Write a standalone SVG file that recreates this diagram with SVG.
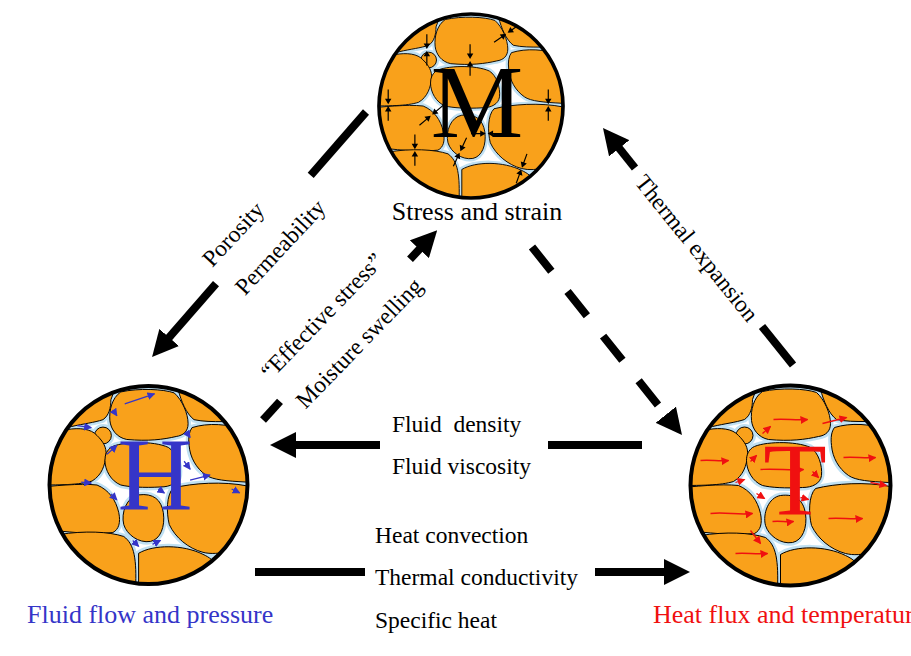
<svg xmlns="http://www.w3.org/2000/svg" xmlns:xlink="http://www.w3.org/1999/xlink" width="911" height="656" viewBox="0 0 911 656">
<style>
.conn path{fill:none;stroke:#000;stroke-width:8}
.lbl{font-family:"Liberation Serif","Times New Roman",serif;font-size:23.5px;fill:#000}
.cap{font-family:"Liberation Serif","Times New Roman",serif;font-size:26px}
.big{font-family:"Liberation Serif","Times New Roman",serif;font-size:104px;text-anchor:middle}
.ring{fill:none;stroke:#000;stroke-width:4}
.fa{fill:none;stroke-width:1.3}
</style>
<defs>
<clipPath id="cc"><circle r="100"/></clipPath>
<marker id="ah" markerUnits="userSpaceOnUse" markerWidth="26" markerHeight="26" viewBox="0 0 26 26" refX="1" refY="13" orient="auto"><path d="M0,0 L26,13 L0,26 Z" fill="#000"/></marker>
<marker id="sab" markerUnits="userSpaceOnUse" markerWidth="8" markerHeight="8" viewBox="0 0 8 8" refX="7" refY="4" orient="auto"><path d="M0,0 L8,4 L0,8 Z" fill="#3535c8"/></marker>
<marker id="sar" markerUnits="userSpaceOnUse" markerWidth="8" markerHeight="8" viewBox="0 0 8 8" refX="7" refY="4" orient="auto"><path d="M0,0 L8,4 L0,8 Z" fill="#f01010"/></marker>
<g id="gp">
<path d="M-28,-94 C-10,-98 15,-97 26,-93 C34,-86 40,-72 40,-62 C40,-54 35,-50 28,-49 C15,-46 0,-44 -22,-46 C-32,-48 -38,-56 -39,-65 C-40,-75 -37,-88 -28,-94 Z"/>
<path d="M-34,-97 L-120,-120 L-120,-58 L-78,-59 C-65,-62 -55,-63 -46,-66 C-40,-70 -38,-78 -38,-86 Z"/>
<path d="M30,-96 C33,-85 38,-72 46,-66 C55,-64 65,-64 75,-64 L120,-60 L120,-120 L30,-120 Z"/>
<circle cx="-46" cy="-50" r="8.5"/>
<path d="M44,-58 C60,-63 80,-62 100,-55 L120,-55 L120,-3 L98,-3 C80,-4 65,-5 58,-10 C48,-17 42,-28 41,-40 C40,-48 41,-54 44,-58 Z"/>
<path d="M-82,-56 C-70,-58 -58,-57 -52,-50 C-46,-44 -42,-38 -43,-30 C-44,-20 -47,-10 -57,-4 C-70,0 -88,0 -120,0 L-120,-56 Z"/>
<path d="M-38,-38 C-28,-44 5,-45 20,-38 C28,-33 32,-20 31,-10 C30,-2 22,2 12,2 C-5,3 -20,2 -28,0 C-38,-4 -44,-15 -44,-25 C-44,-31 -42,-35 -38,-38 Z"/>
<path d="M-120,3 C-95,1 -70,-2 -52,0 C-40,5 -33,15 -30,28 C-28,38 -30,45 -36,48 C-55,50 -75,48 -95,46 L-120,46 Z"/>
<path d="M-10,10 C5,8 13,15 15,28 C17,42 12,55 2,57 C-10,59 -22,50 -25,40 C-28,28 -22,12 -10,10 Z"/>
<path d="M25,3 C45,-2 75,-4 100,1 L110,1 L110,55 C95,65 70,72 55,68 C40,64 27,53 21,40 C18,28 18,10 25,3 Z"/>
<path d="M-90,50 C-65,46 -40,47 -25,52 C-14,60 -12,75 -13,105 L-100,105 L-100,50 Z"/>
<path d="M-10,69 C5,60 35,60 55,70 C68,76 74,84 70,110 L-10,110 Z"/>
</g>
<g id="grains">
<circle r="100" fill="#ffffff"/>
<use xlink:href="#gp" fill="none" stroke="#bfe0f2" stroke-width="6"/>
<use xlink:href="#gp" fill="#f9a11b" stroke="#000" stroke-width="1"/>
</g>
<g id="pinch">
<path d="M0,-17V-5M0,17V5" stroke="#000" stroke-width="1.3"/>
<path d="M-3.5,-7L0,-1L3.5,-7ZM-3.5,7L0,1L3.5,7Z" fill="#000"/>
</g>
</defs>

<g id="connectors" class="conn">
<path d="M366,112 L310.7,175.3"/>
<path d="M216,283.7 L168.5,338.2" marker-end="url(#ah)"/>
<path d="M263,420 L280,401.4"/>
<path d="M410,259.3 L420.1,248.5" marker-end="url(#ah)"/>
<path d="M532,247 L666.4,415.5" stroke-dasharray="31 26" marker-end="url(#ah)"/>
<path d="M793,365 L762,326.4"/>
<path d="M635,168 L618.6,147.5" marker-end="url(#ah)"/>
<path d="M642,445 L548,445"/>
<path d="M380,445 L295,445" marker-end="url(#ah)"/>
<path d="M255,572 L365,572"/>
<path d="M595,572 L665,572" marker-end="url(#ah)"/>
</g>

<g id="connector-labels" class="lbl">
<text transform="translate(233,234) rotate(-47)" text-anchor="middle" y="8">Porosity</text>
<text transform="translate(280,247) rotate(-47)" text-anchor="middle" y="8">Permeability</text>
<text transform="translate(322,316) rotate(-46)" text-anchor="middle" y="8">“Effective stress”</text>
<text transform="translate(359,343) rotate(-46)" text-anchor="middle" y="8">Moisture swelling</text>
<text transform="translate(697,248) rotate(51)" text-anchor="middle" y="8">Thermal expansion</text>
<text x="392" y="432" xml:space="preserve">Fluid  density</text>
<text x="392" y="474">Fluid viscosity</text>
<text x="375" y="543">Heat convection</text>
<text x="375" y="585">Thermal conductivity</text>
<text x="375" y="628">Specific heat</text>
</g>

<g id="node-M">
<g transform="translate(471,106) scale(0.92)">
<g clip-path="url(#cc)">
<use xlink:href="#grains"/>
<use xlink:href="#pinch" transform="translate(-48,-61)"/>
<use xlink:href="#pinch" transform="translate(-1,-50)"/>
<use xlink:href="#pinch" transform="translate(39,-79) rotate(55)"/>
<use xlink:href="#pinch" transform="translate(-90,-1)"/>
<use xlink:href="#pinch" transform="translate(84,-1)"/>
<use xlink:href="#pinch" transform="translate(-43,10) rotate(50)"/>
<use xlink:href="#pinch" transform="translate(-61,48)"/>
<use xlink:href="#pinch" transform="translate(-12,50) rotate(25)"/>
<use xlink:href="#pinch" transform="translate(55,68) rotate(20)"/>
<use xlink:href="#pinch" transform="translate(17,30) rotate(90)"/>
</g>
<circle r="100" class="ring"/>
</g>
<text class="big" x="477" y="137" fill="#000">M</text>
<text class="cap" x="477" y="220" text-anchor="middle" fill="#000">Stress and strain</text>
</g>

<g id="node-H">
<g transform="translate(148.5,485) scale(0.99)">
<g clip-path="url(#cc)">
<use xlink:href="#grains"/>
<g class="fa" stroke="#3535c8">
<path d="M-24,-82 L6,-92" marker-end="url(#sab)"/>
<path d="M-72,-60 L-58,-58" marker-end="url(#sab)"/>
<path d="M-36,-76 L-32,-70" marker-end="url(#sab)"/>
<path d="M-42,-31 L-32,-40" marker-end="url(#sab)"/>
<path d="M42,-5 L62,-10" marker-end="url(#sab)"/>
<path d="M-68,-3 L-58,-2" marker-end="url(#sab)"/>
<path d="M-38,9 L-32,15" marker-end="url(#sab)"/>
<path d="M10,4 L16,8" marker-end="url(#sab)"/>
<path d="M-16,56 L-10,62" marker-end="url(#sab)"/>
<path d="M4,60 L12,56" marker-end="url(#sab)"/>
<path d="M84,4 L92,8" marker-end="url(#sab)"/>
<path d="M38,-54 L42,-48" marker-end="url(#sab)"/>
<path d="M36,-24 L42,-16" marker-end="url(#sab)"/>
</g>
</g>
<circle r="100" class="ring"/>
</g>
<text class="big" x="155" y="510" fill="#3535c8">H</text>
<text class="cap" x="27" y="623" fill="#3535c8">Fluid flow and pressure</text>
</g>

<g id="node-T">
<g transform="translate(790.5,485.5)">
<g clip-path="url(#cc)">
<use xlink:href="#grains"/>
<g class="fa" stroke="#f01010">
<path d="M-17,-66 C-5,-67 5,-65 17,-66" marker-end="url(#sar)"/>
<path d="M-90,-25 C-80,-26 -72,-24 -62,-25" marker-end="url(#sar)"/>
<path d="M53,-28 C63,-29 75,-27 85,-28" marker-end="url(#sar)"/>
<path d="M-30,-16 C-15,-17 0,-15 13,-16" marker-end="url(#sar)"/>
<path d="M-80,28 C-65,26 -52,30 -38,28" marker-end="url(#sar)"/>
<path d="M-18,36 C-10,35 -4,37 3,36" marker-end="url(#sar)"/>
<path d="M38,33 C50,32 60,34 72,33" marker-end="url(#sar)"/>
<path d="M-55,68 C-45,67 -35,69 -23,68" marker-end="url(#sar)"/>
<path d="M-28,-52 L-20,-59" marker-end="url(#sar)"/>
<path d="M32,-62 L56,-68" marker-end="url(#sar)"/>
<path d="M-40,-24 L-34,-30" marker-end="url(#sar)"/>
<path d="M-55,-3 L-46,-6" marker-end="url(#sar)"/>
<path d="M-34,8 L-26,13" marker-end="url(#sar)"/>
<path d="M22,-14 L28,-8" marker-end="url(#sar)"/>
<path d="M10,12 L18,14" marker-end="url(#sar)"/>
<path d="M-40,45 L-30,58" marker-end="url(#sar)"/>
<path d="M80,-3 L96,0" marker-end="url(#sar)"/>
</g>
</g>
<circle r="100" class="ring"/>
</g>
<text class="big" x="795" y="515" fill="#f01010">T</text>
<text class="cap" x="653" y="623" fill="#f01010">Heat flux and temperature</text>
</g>
</svg>
